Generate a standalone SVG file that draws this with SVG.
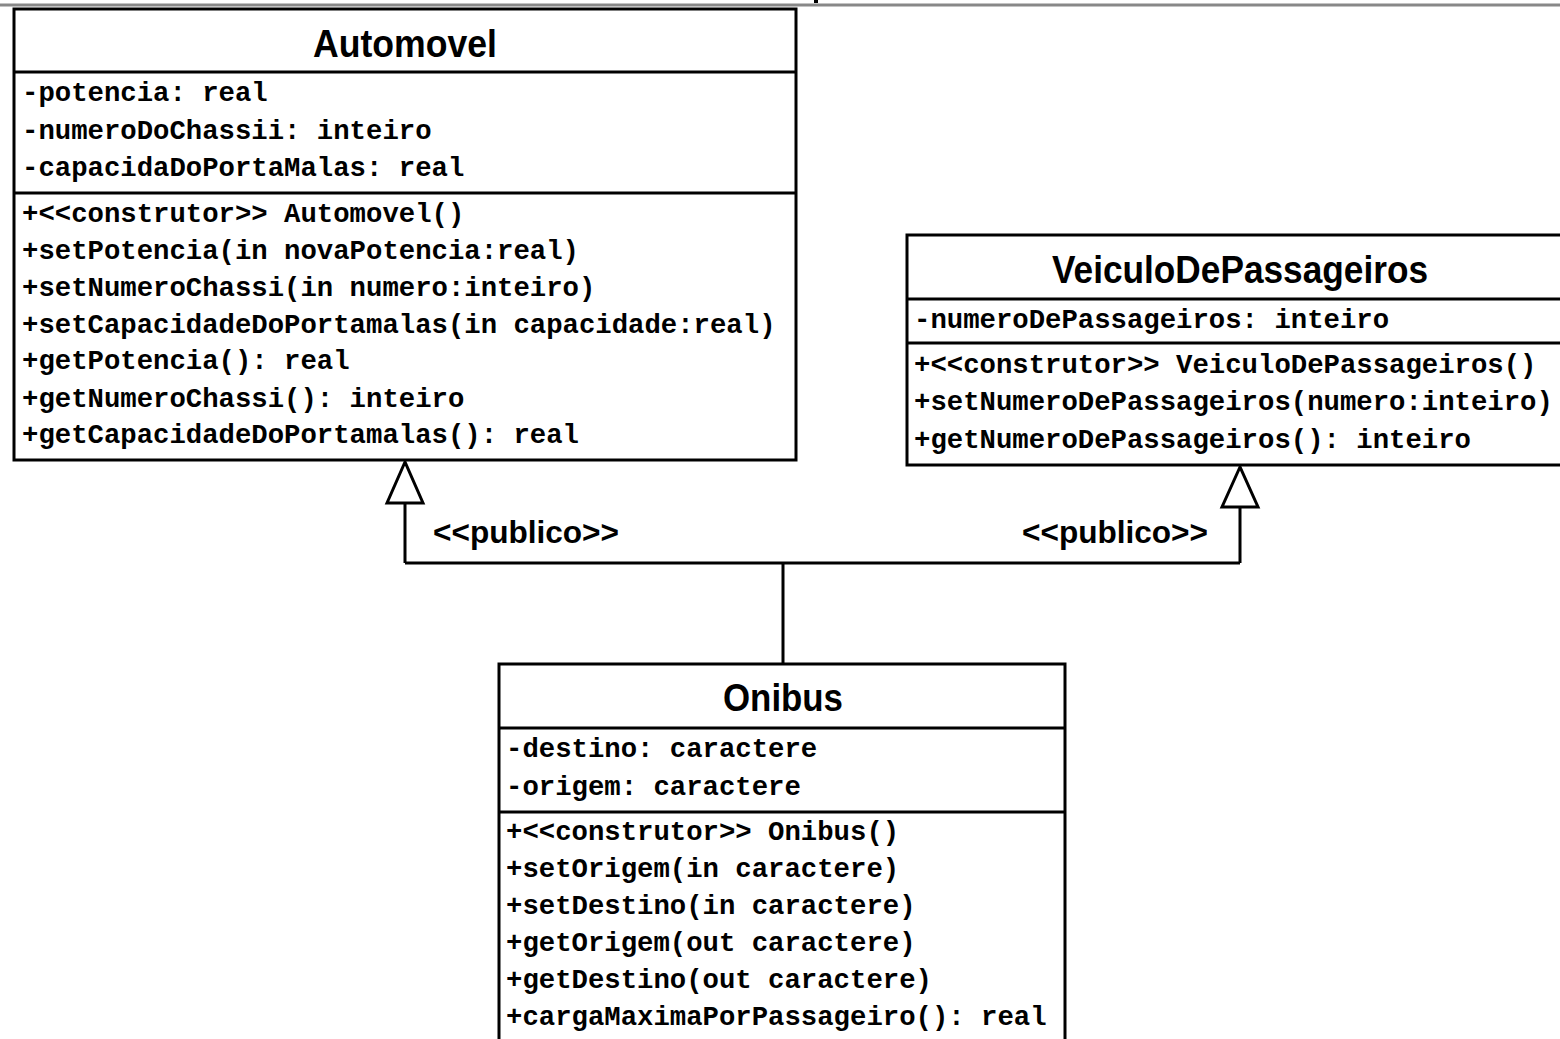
<svg xmlns="http://www.w3.org/2000/svg" width="1560" height="1039" viewBox="0 0 1560 1039">
  <style>
    .box { fill: #ffffff; stroke: #000000; stroke-width: 3; }
    .sep { stroke: #000000; stroke-width: 3; }
    .title { font-family: "Liberation Sans", Arial, sans-serif; font-weight: bold; font-size: 39px; fill: #000000; text-anchor: middle; }
    .member { font-family: "Liberation Mono", "Courier New", monospace; font-weight: bold; font-size: 27.3px; fill: #000000; }
    .wire { fill: none; stroke: #000000; stroke-width: 3; }
    .head { fill: #ffffff; stroke: #000000; stroke-width: 3; stroke-linejoin: miter; }
    .stereo { font-family: "Liberation Sans", Arial, sans-serif; font-weight: bold; font-size: 31px; fill: #000000; }
  </style>

  <rect x="0" y="0" width="1560" height="1039" fill="#ffffff"/>
  <!-- page rule along the top edge -->
  <line x1="0" y1="5" x2="1560" y2="5" stroke="#888888" stroke-width="3"/>
  <rect x="814" y="0" width="4" height="3" fill="#000000"/>

  <!-- inheritance connectors -->
  <g id="connectors">
    <path class="wire" d="M783,664 V563 M405,563 H1240 M405,563 V503 M1240,563 V507"/>
    <polygon class="head" points="405,462 387,503 423,503"/>
    <polygon class="head" points="1240,467 1222,507 1258,507"/>
    <text class="stereo" x="433" y="543" textLength="186" lengthAdjust="spacingAndGlyphs">&lt;&lt;publico&gt;&gt;</text>
    <text class="stereo" x="1022" y="543" textLength="186" lengthAdjust="spacingAndGlyphs">&lt;&lt;publico&gt;&gt;</text>
  </g>

  <g id="automovel">
    <rect class="box" x="14" y="9" width="782" height="451"/>
    <line class="sep" x1="14" y1="72" x2="796" y2="72"/>
    <line class="sep" x1="14" y1="193" x2="796" y2="193"/>
    <text class="title" x="405" y="57" textLength="184" lengthAdjust="spacingAndGlyphs">Automovel</text>
    <text class="member" x="22" y="101">-potencia: real</text>
    <text class="member" x="22" y="139">-numeroDoChassii: inteiro</text>
    <text class="member" x="22" y="176">-capacidaDoPortaMalas: real</text>
    <text class="member" x="22" y="222">+&lt;&lt;construtor&gt;&gt; Automovel()</text>
    <text class="member" x="22" y="259">+setPotencia(in novaPotencia:real)</text>
    <text class="member" x="22" y="296">+setNumeroChassi(in numero:inteiro)</text>
    <text class="member" x="22" y="333">+setCapacidadeDoPortamalas(in capacidade:real)</text>
    <text class="member" x="22" y="369">+getPotencia(): real</text>
    <text class="member" x="22" y="407">+getNumeroChassi(): inteiro</text>
    <text class="member" x="22" y="443">+getCapacidadeDoPortamalas(): real</text>
  </g>

  <g id="veiculoDePassageiros">
    <rect class="box" x="907" y="235" width="667" height="230"/>
    <line class="sep" x1="907" y1="299" x2="1574" y2="299"/>
    <line class="sep" x1="907" y1="343" x2="1574" y2="343"/>
    <text class="title" x="1240" y="283" textLength="376" lengthAdjust="spacingAndGlyphs">VeiculoDePassageiros</text>
    <text class="member" x="914" y="328">-numeroDePassageiros: inteiro</text>
    <text class="member" x="914" y="373">+&lt;&lt;construtor&gt;&gt; VeiculoDePassageiros()</text>
    <text class="member" x="914" y="410">+setNumeroDePassageiros(numero:inteiro)</text>
    <text class="member" x="914" y="448">+getNumeroDePassageiros(): inteiro</text>
  </g>

  <g id="onibus">
    <rect class="box" x="499" y="664" width="566" height="400"/>
    <line class="sep" x1="499" y1="728" x2="1065" y2="728"/>
    <line class="sep" x1="499" y1="812" x2="1065" y2="812"/>
    <text class="title" x="783" y="711" textLength="120" lengthAdjust="spacingAndGlyphs">Onibus</text>
    <text class="member" x="506" y="757">-destino: caractere</text>
    <text class="member" x="506" y="795">-origem: caractere</text>
    <text class="member" x="506" y="840">+&lt;&lt;construtor&gt;&gt; Onibus()</text>
    <text class="member" x="506" y="877">+setOrigem(in caractere)</text>
    <text class="member" x="506" y="914">+setDestino(in caractere)</text>
    <text class="member" x="506" y="951">+getOrigem(out caractere)</text>
    <text class="member" x="506" y="988">+getDestino(out caractere)</text>
    <text class="member" x="506" y="1025">+cargaMaximaPorPassageiro(): real</text>
  </g>
</svg>
